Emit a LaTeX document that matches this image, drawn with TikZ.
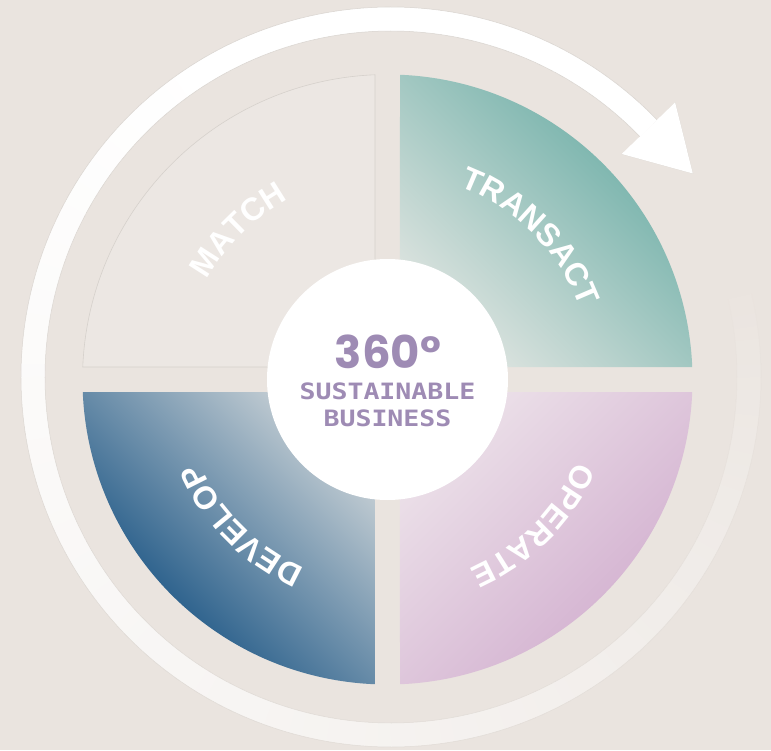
\documentclass[tikz,border=0pt]{standalone}
\usepackage{fontspec}
\usepackage{xcolor}
\usepackage{tikz}
\usetikzlibrary{positioning,calc,decorations.text}

\setmainfont{Liberation Sans}
\newfontfamily\arcfont{Liberation Sans}
\newfontfamily\hubfont{Poppins}
\newfontfamily\hubmono{DejaVu Sans Mono}[FakeStretch=1.18]

\definecolor{bgbeige}{HTML}{EAE4DF}
\definecolor{matchfill}{HTML}{ECE7E3}
\definecolor{matchline}{HTML}{D6D1CC}
\definecolor{ringline}{HTML}{DAD5D0}
\definecolor{transdark}{HTML}{66ABA3}
\definecolor{translight}{HTML}{DEE4E0}
\definecolor{operlight}{HTML}{ECE1E9}
\definecolor{operdark}{HTML}{D0ABCD}
\definecolor{devdark}{HTML}{05457A}
\definecolor{devlight}{HTML}{C7D0D5}
\definecolor{hubpurple}{HTML}{9E8BB4}

\tikzset{
  arclabel/.style={decorate, decoration={text along path, text align=center,
      text={|\arcfont\bfseries\fontsize{32}{32}\selectfont\color{white}|#1}}},
  hubtext/.style={text=hubpurple, inner sep=0pt},
}

\begin{document}
\begin{tikzpicture}[x=1pt, y=1pt]
    % Background
    \useasboundingbox (-387.5,-370.5) rectangle (383.5,379.5);
    \fill[bgbeige] (-387.5,-370.5) rectangle (383.5,379.5);

    % Draw fading ring in short overlapping pieces, then the arrow head
    \begin{scope}[shift={(3.5,2.5)}]
        \foreach \a in {44,46,...,370} {
            \pgfmathsetmacro{\p}{100*min(1,pow((372-\a)/252,0.7))}
            \draw[white!\p!bgbeige, line width=24pt]
                (\a:358) arc[start angle=\a, end angle=\a+3, radius=358];
            \draw[ringline!\p!bgbeige, line width=0.5pt]
                (\a:346) arc[start angle=\a, end angle=\a+3, radius=346];
            \draw[ringline!\p!bgbeige, line width=0.5pt]
                (\a:370) arc[start angle=\a, end angle=\a+3, radius=370];
        }
        \filldraw[fill=white, draw=ringline, line width=0.5pt] (44:321) -- (34:364) -- (44:395);
        \fill[white] (44:321) -- (44:395) -- (34:364) -- cycle;
    \end{scope}

    % Draw the four quarters
    \filldraw[fill=matchfill, draw=matchline, line width=0.6pt]
        (-12.5,12.5) -- (92.35:305) arc[start angle=92.35, end angle=177.65, radius=305] -- cycle;
    \shade[top color=transdark, bottom color=translight, shading angle=-45]
        (12.5,12.5) -- (87.65:305) arc[start angle=87.65, end angle=2.35, radius=305] -- cycle;
    \shade[top color=operlight, bottom color=operdark, shading angle=45]
        (12.5,-12.5) -- (272.35:305) arc[start angle=272.35, end angle=357.65, radius=305] -- cycle;
    \shade[top color=devlight, bottom color=devdark, shading angle=-45]
        (-12.5,-12.5) -- (182.35:305) arc[start angle=182.35, end angle=267.65, radius=305] -- cycle;

    % Add labels along the arcs
    \path[arclabel=MATCH] (175:206) arc[start angle=175, end angle=95, radius=206];
    \path[arclabel=TRANSACT] (85:206) arc[start angle=85, end angle=5, radius=206];
    \path[arclabel=OPERATE] (-5:206) arc[start angle=-5, end angle=-85, radius=206];
    \path[arclabel=DEVELOP] (265:206) arc[start angle=265, end angle=185, radius=206];

    % Centre
    \node[circle, fill=white, minimum size=241pt, inner sep=0pt] (hub) at (0,0) {};
    \node[hubtext, font=\hubfont\bfseries\fontsize{45}{45}\selectfont] (deg) at (0.5,28) {360°};
    \node[hubtext, font=\hubmono\bfseries\fontsize{22.5}{22.5}\selectfont] (sust) at (0,-11.5) {SUSTAINABLE};
    \node[hubtext, font=\hubmono\bfseries\fontsize{22.5}{22.5}\selectfont] (biz) at (0,-38.5) {BUSINESS};
\end{tikzpicture}
\end{document}
